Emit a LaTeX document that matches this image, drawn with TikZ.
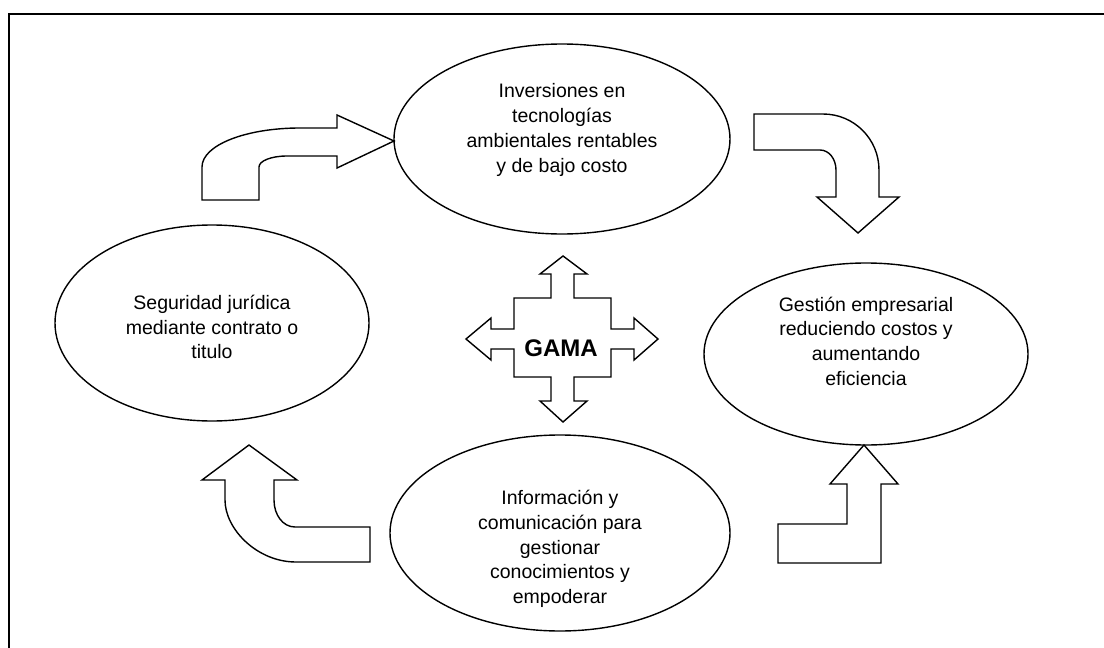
\documentclass[tikz,border=0pt]{standalone}
\usepackage{fontspec}
\setmainfont{Liberation Sans}
\usetikzlibrary{shapes.geometric}

\begin{document}
\begin{tikzpicture}[x=0.5pt, y=-0.5pt, line join=miter]
	% Stili per ellissi, testi e frecce
	\tikzset{burbuja/.style={ellipse, draw, line width=0.7pt, inner sep=0pt},
		texto/.style={align=center, inner sep=0pt, font=\fontsize{9.75}{12.35}\selectfont},
		flecha/.style={draw, line width=0.7pt, fill=white}}
	
	\useasboundingbox (0,0) rectangle (1104,648);
	
	% Cornice (solo lati sinistro e superiore visibili)
	\draw[line width=1.2pt] (9,648) -- (9,14) -- (1104,14);
	
	% Ellissi
	\node[burbuja, minimum width=168pt, minimum height=95pt] (inv) at (562,139) {};
	\node[burbuja, minimum width=157pt, minimum height=98pt] (seg) at (212,323) {};
	\node[burbuja, minimum width=162pt, minimum height=91pt] (ges) at (866,354) {};
	\node[burbuja, minimum width=170pt, minimum height=98pt] (inf) at (560,533) {};
	
	% Testi
	\node[texto] (tinv) at (562,130) {Inversiones en\\tecnologías\\ambientales rentables\\y de bajo costo};
	\node[texto] (tseg) at (212,327) {Seguridad jurídica\\mediante contrato o\\titulo};
	\node[texto] (tges) at (866,341) {Gestión empresarial\\reduciendo costos y\\aumentando\\eficiencia};
	\node[texto] (tinf) at (560,549) {Información y\\comunicación para\\gestionar\\conocimientos y\\empoderar};
	
	% Frecce del ciclo
	\draw[flecha] (202,200) -- (202,167) .. controls (202,145) and (246,128) .. (300,128)
		-- (337,128) -- (337,115) -- (394,141) -- (337,168) -- (337,156) -- (287,156)
		.. controls (271,156) and (259,161) .. (259,167) -- (259,200) -- cycle;
	\draw[flecha] (754,114) -- (823,114) .. controls (854,114) and (879,139) .. (879,170)
		-- (879,197) -- (899,197) -- (858,233) -- (817,197) -- (836,197) -- (836,170)
		.. controls (836,159) and (829,150) .. (820,150) -- (754,150) -- cycle;
	\draw[flecha] (249,445) -- (297,480) -- (274,480) -- (274,500)
		.. controls (274,515) and (283,527) .. (295,527) -- (370,527) -- (370,562) -- (296,562)
		.. controls (257,562) and (225,529) .. (225,500) -- (225,480) -- (202,480) -- cycle;
	\draw[flecha] (864,445) -- (898,484) -- (881,484) -- (881,563) -- (778,563)
		-- (778,524) -- (847,524) -- (847,484) -- (830,484) -- cycle;
	
	% Croce centrale GAMA
	\draw[flecha] (563,256) -- (587,274) -- (574,274) -- (574,298) -- (611,298) -- (611,329)
		-- (634,329) -- (634,318) -- (658,339) -- (634,360) -- (634,349) -- (611,349)
		-- (611,377) -- (574,377) -- (574,401) -- (587,401) -- (563,422) -- (540,401)
		-- (551,401) -- (551,377) -- (514,377) -- (514,349) -- (491,349) -- (491,360)
		-- (466,339) -- (491,318) -- (491,329) -- (514,329) -- (514,298) -- (551,298)
		-- (551,274) -- (540,274) -- cycle;
	\node[font=\fontsize{12}{14}\selectfont\bfseries, inner sep=0pt] (gama) at (561,348) {GAMA};
\end{tikzpicture}
\end{document}
